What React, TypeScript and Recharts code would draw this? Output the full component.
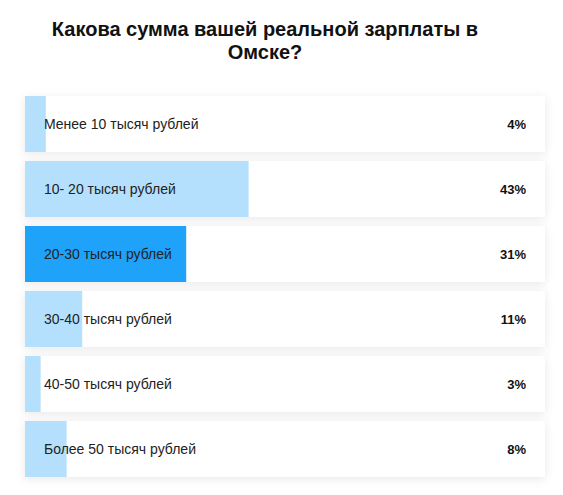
import { BarChart, Bar, XAxis, YAxis, Cell, LabelList } from 'recharts';

const categories = [
    'Менее 10 тысяч рублей',
    '10- 20 тысяч рублей',
    '20-30 тысяч рублей',
    '30-40 тысяч рублей',
    '40-50 тысяч рублей',
    'Более 50 тысяч рублей',
];
const percents = [4, 43, 31, 11, 3, 8];
const highlighted = [false, false, true, false, false, false];

const data = categories.map((name, i) => ({ name, value: percents[i], hi: highlighted[i] }));

const FONT = '"Liberation Sans", Arial, sans-serif';

function RowLabel(props: any) {
    const { y, height, index } = props;
    const cy = y + height / 2;
    return (
        <g>
            <text x={44} y={cy} dy={5} fontSize={14} fill="#222" fontFamily={FONT}>
                {categories[index]}
            </text>
            <text x={526} y={cy} dy={5} fontSize={13} fontWeight="bold" fill="#111" textAnchor="end" fontFamily={FONT}>
                {percents[index]}%
            </text>
        </g>
    );
}

export default function App() {
    return (
        <div style={{ position: 'absolute', left: 0, top: 0, width: 563, height: 495, background: '#fff', fontFamily: FONT }}>
            <div
                style={{
                    position: 'absolute',
                    left: 0,
                    top: 18,
                    width: 530,
                    textAlign: 'center',
                    fontSize: 20,
                    fontWeight: 'bold',
                    lineHeight: '23px',
                    color: '#111',
                }}
            >
                Какова сумма вашей реальной зарплаты в<br />Омске?
            </div>
            <BarChart
                width={563}
                height={495}
                data={data}
                layout="vertical"
                margin={{ top: 91, right: 18, bottom: 14, left: 25 }}
                barSize={56}
            >
                <defs>
                    <filter id="cardShadow" x="-5%" y="-30%" width="110%" height="160%">
                        <feDropShadow dx="0" dy="2" stdDeviation="5" floodColor="#000" floodOpacity="0.09" />
                    </filter>
                </defs>
                <XAxis type="number" domain={[0, 100]} hide />
                <YAxis type="category" dataKey="name" hide />
                <Bar
                    dataKey="value"
                    isAnimationActive={false}
                    background={{ fill: '#fff', filter: 'url(#cardShadow)' }}
                >
                    {data.map((d, i) => (
                        <Cell key={i} fill={d.hi ? '#1fa2fa' : '#b4e0fd'} />
                    ))}
                    <LabelList dataKey="value" content={<RowLabel />} />
                </Bar>
            </BarChart>
        </div>
    );
}
